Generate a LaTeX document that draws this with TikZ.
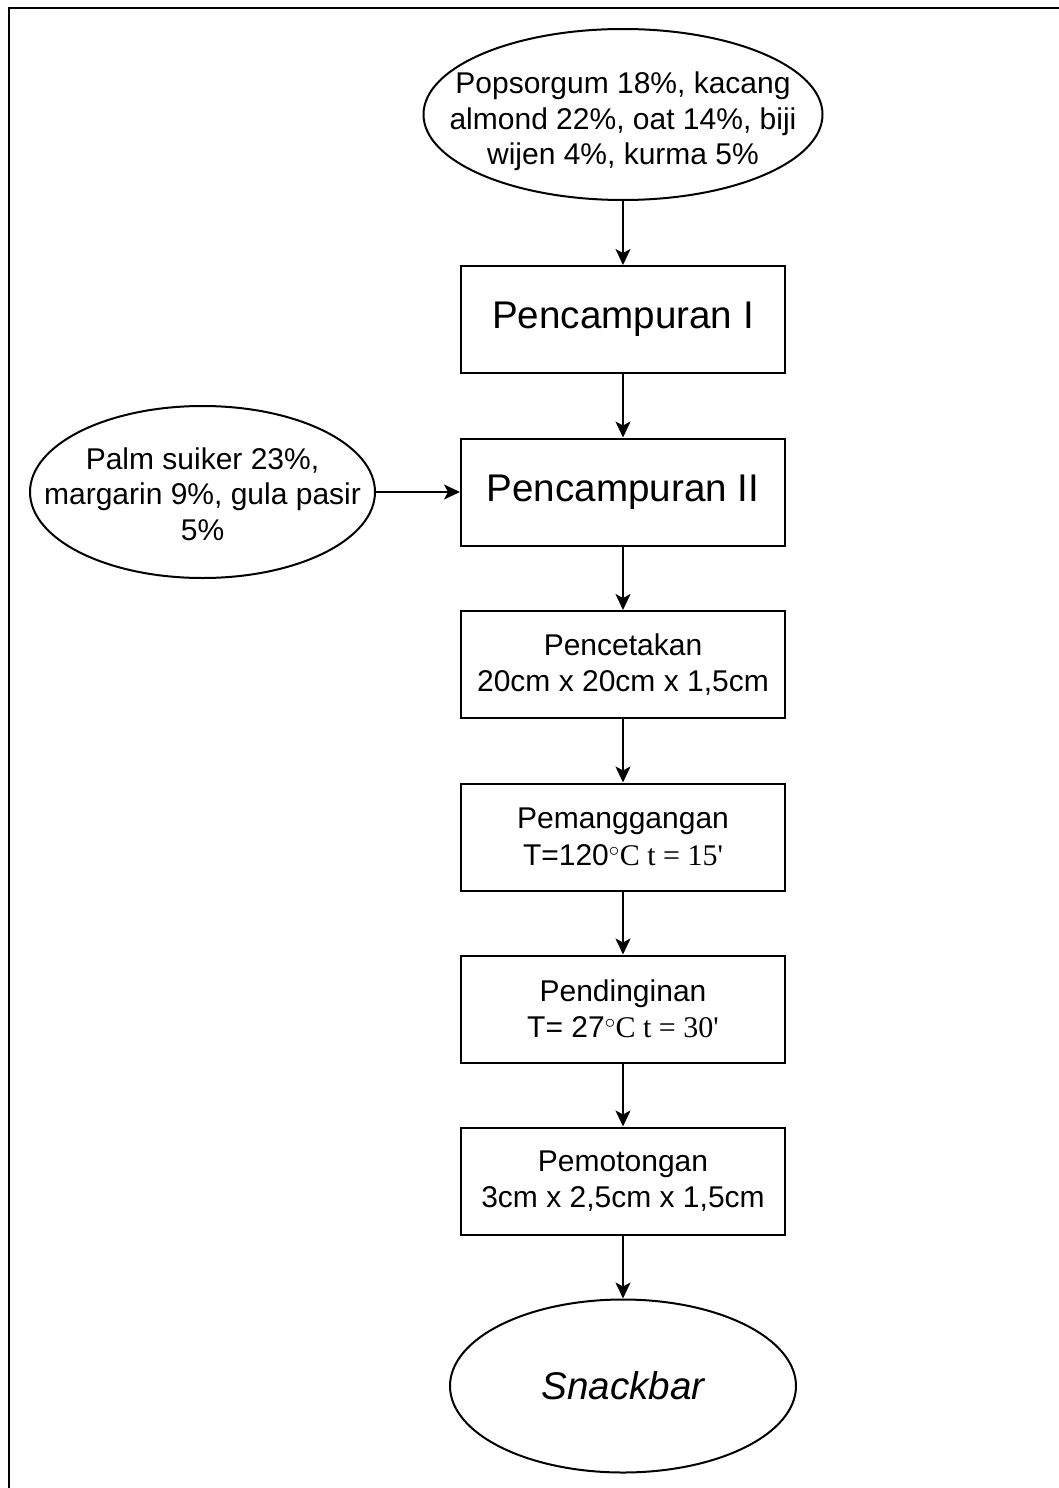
\documentclass[tikz,border=0pt]{standalone}
\usepackage{fontspec}
\setmainfont{Liberation Sans}
\newfontfamily\tnr{Liberation Serif}
\usetikzlibrary{shapes.geometric,arrows.meta}
\begin{document}
\begin{tikzpicture}[x=1pt,y=-1pt,
  box/.style={draw, line width=2pt, rectangle, minimum width=324pt, minimum height=107pt, align=center, inner sep=0pt},
  oval/.style={draw, line width=2pt, ellipse, inner sep=0pt},
  arr/.style={line width=2pt, -{Stealth[length=16pt,width=15pt,inset=4pt]}},
  small/.style={font=\fontsize{30}{35.5}\selectfont, align=center},
  boxsmall/.style={font=\fontsize{30}{36.5}\selectfont, align=center},
  big/.style={font=\fontsize{38.6}{44}\selectfont, align=center}]
\useasboundingbox (0,0) rectangle (1059,1488);
\draw[line width=2.4pt] (9,1488) -- (9,8) -- (1059,8);

% top ellipse
\node[oval, minimum width=399pt, minimum height=171pt] (e1) at (623,114.5) {};
\node[small] (e1t) at (623,121.5) {Popsorgum 18\%, kacang\\almond 22\%, oat 14\%, biji\\wijen 4\%, kurma 5\%};

% left ellipse
\node[oval, minimum width=345pt, minimum height=172pt] (e2) at (202.5,492) {};
\node[small] (e2t) at (202.5,494) {Palm suiker 23\%,\\margarin 9\%, gula pasir\\5\%};

\node[box, big] (p1) at (623,319.5) {Pencampuran I};
\node[box, big] (p2) at (623,492) {Pencampuran II};
\node[box, boxsmall] (p3) at (623,664.5) {Pencetakan\\20cm x 20cm x 1,5cm};
\node[box, boxsmall] (p4) at (623,837) {Pemanggangan\\T=120{\tnr$^\circ$C t = 15\textquotesingle}};
\node[box, boxsmall] (p5) at (623,1009) {Pendinginan\\T= 27{\tnr$^\circ$C t = 30\textquotesingle}};
\node[box, boxsmall] (p6) at (623,1181) {Pemotongan\\3cm x 2,5cm x 1,5cm};

% final ellipse
\node[oval, minimum width=346pt, minimum height=173pt] (e3) at (623,1386) {};
\node[big] (e3t) at (e3.center) {\itshape Snackbar};

\draw[arr] (e1.south) -- (p1.north);
\draw[arr] (p1.south) -- (p2.north);
\draw[arr] (e2.east) -- (p2.west);
\draw[arr] (p2.south) -- (p3.north);
\draw[arr] (p3.south) -- (p4.north);
\draw[arr] (p4.south) -- (p5.north);
\draw[arr] (p5.south) -- (p6.north);
\draw[arr] (p6.south) -- (e3.north);
\end{tikzpicture}
\end{document}
